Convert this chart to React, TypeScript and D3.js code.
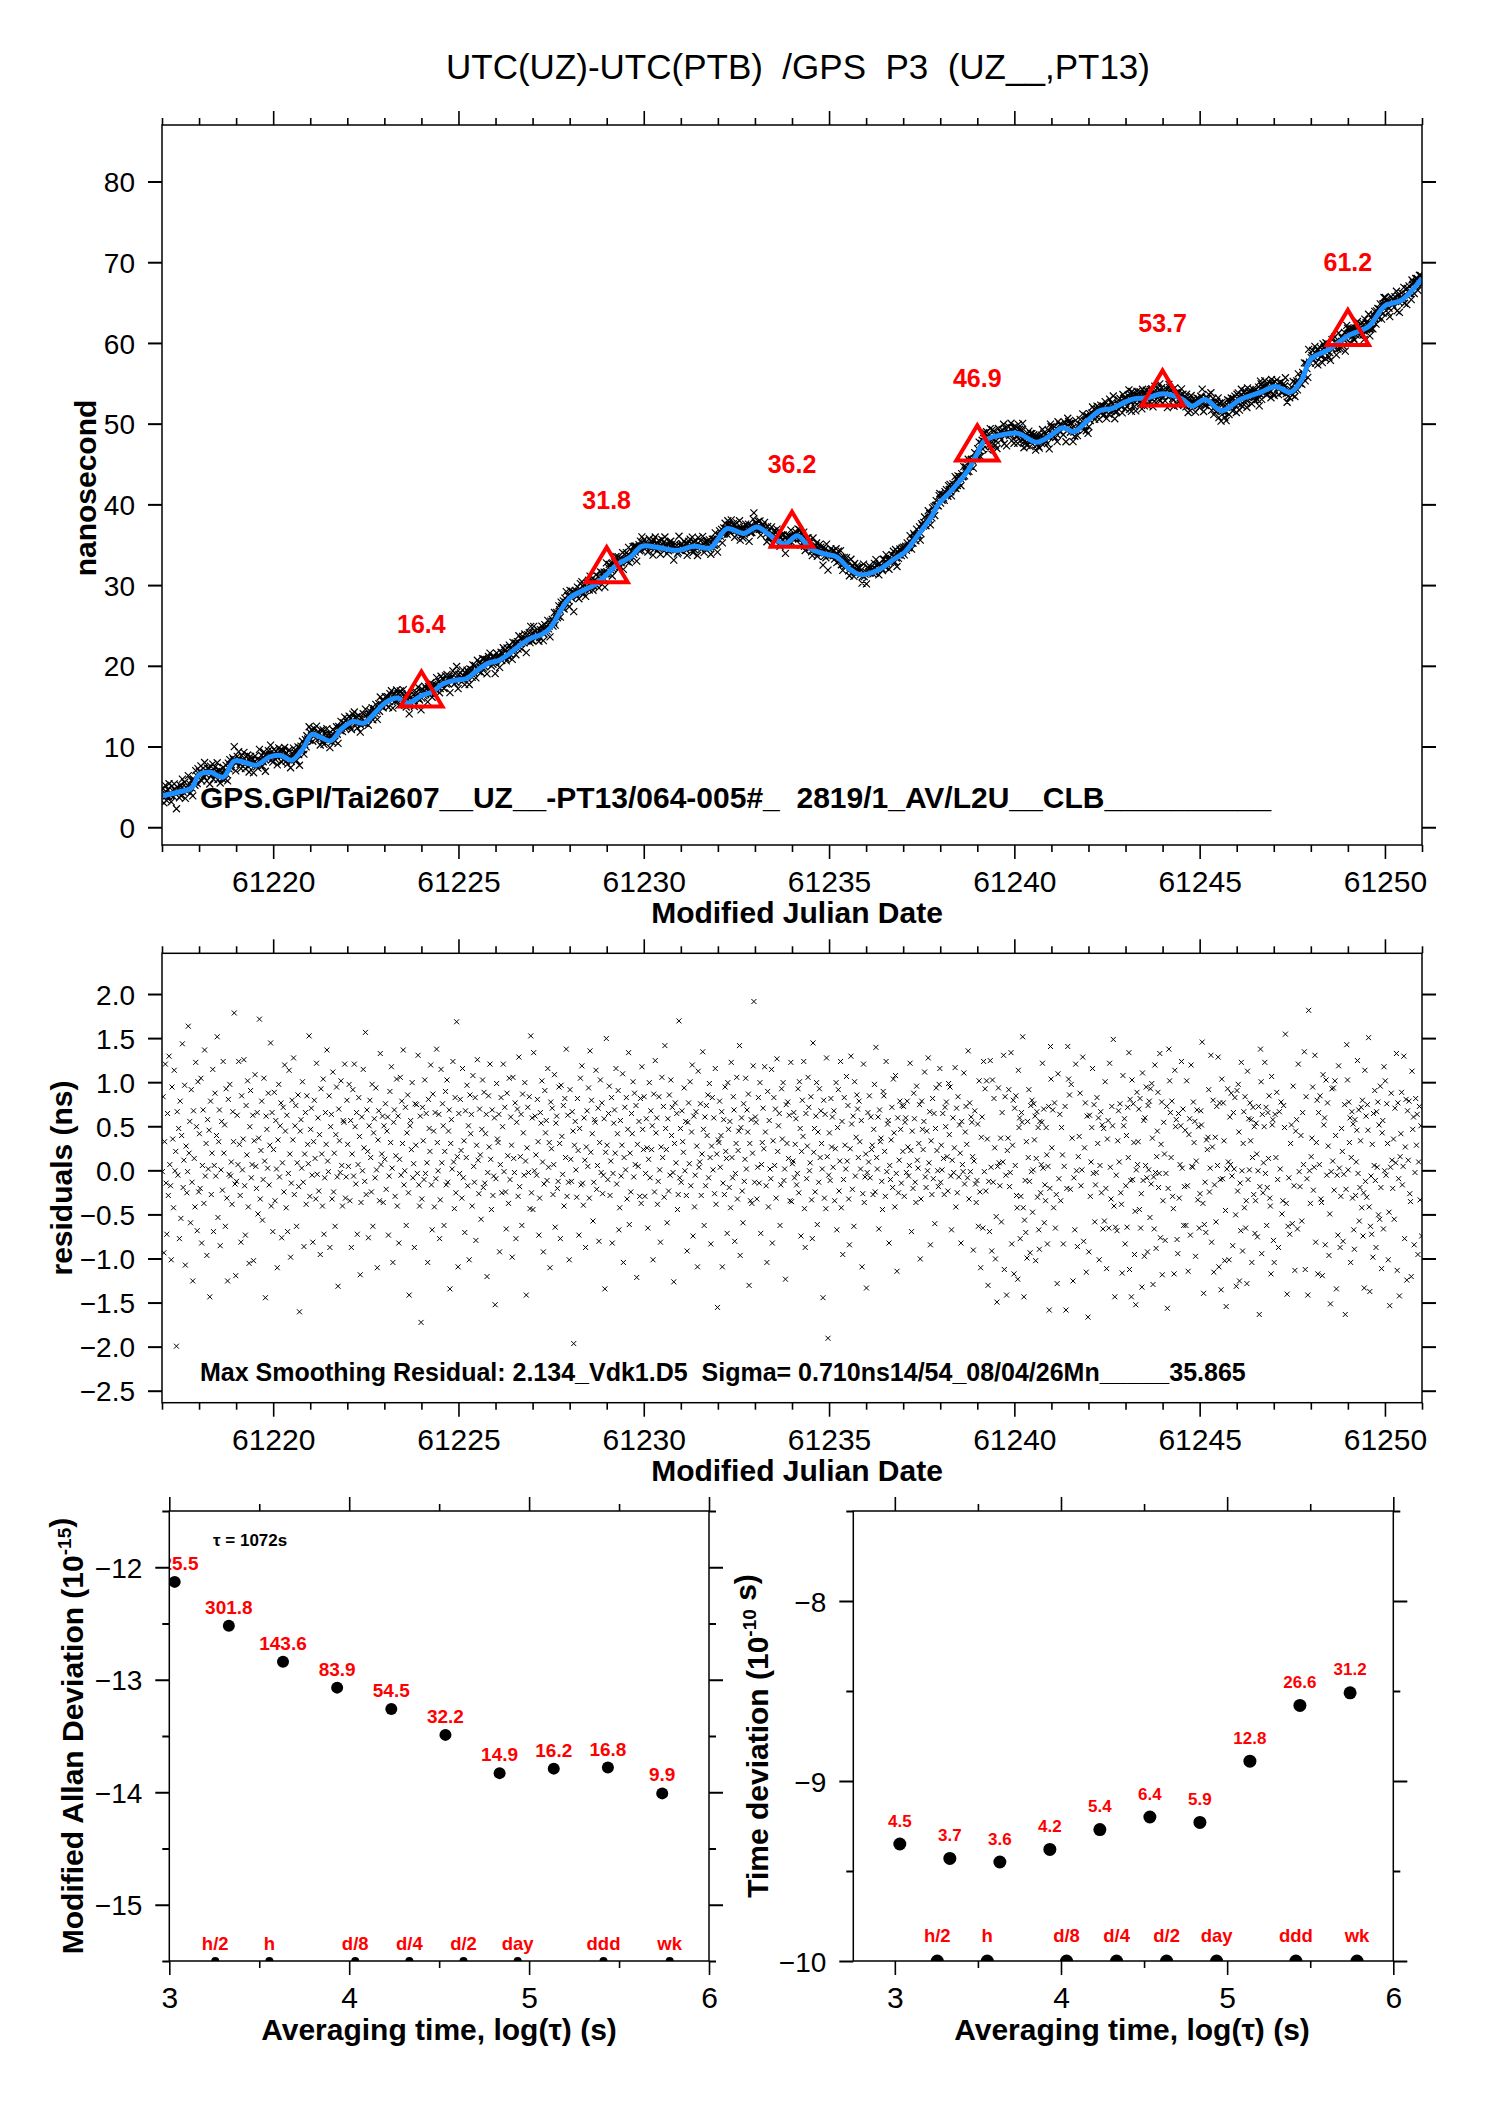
import { useRef, useEffect } from 'react';
import * as d3 from 'd3';

const W = 1488;
const H = 2105;
const FONT = '"Liberation Sans", Arial, Helvetica, sans-serif';
const RED = '#ff0000';
const BLUE = '#1e90ff';

const TITLE = 'UTC(UZ)-UTC(PTB)  /GPS  P3  (UZ__,PT13)';
const INFO_TOP = 'GPS.GPI/Tai2607__UZ__-PT13/064-005#_  2819/1_AV/L2U__CLB__________';
const INFO_RES = 'Max Smoothing Residual: 2.134_Vdk1.D5  Sigma= 0.710ns14/54_08/04/26Mn_____35.865';

const MJD0 = 61217;
const MJD_TICKS = [61220, 61225, 61230, 61235, 61240, 61245, 61250];
const NS_TICKS = [0, 10, 20, 30, 40, 50, 60, 70, 80];
const RES_TICKS = [2, 1.5, 1, 0.5, 0, -0.5, -1, -1.5, -2, -2.5];
const LOG_TICKS = [3, 4, 5, 6];
const LOG_MINOR = [3.5, 4.5, 5.5];
const ADEV_TICKS = [-12, -13, -14, -15];
const ADEV_MINOR = [-11.5, -12.5, -13.5, -14.5, -15.5];
const TDEV_TICKS = [-8, -9, -10];
const TDEV_MINOR = [-7.5, -8.5, -9.5];

// smoothed clock difference (blue curve)
const SMOOTH_MJD = [
  61217.0, 61217.4, 61217.8, 61218.0, 61218.3, 61218.65, 61218.95, 61219.25, 61219.55, 61219.9,
  61220.2, 61220.5, 61220.8, 61221.05, 61221.3, 61221.55, 61221.85, 61222.15, 61222.45, 61222.75,
  61223.05, 61223.35, 61223.65, 61224.0, 61224.3, 61224.6, 61224.9, 61225.2, 61225.5, 61225.8,
  61226.1, 61226.4, 61226.7, 61227.0, 61227.25, 61227.5, 61227.75, 61228.0, 61228.35, 61228.7,
  61229.0, 61229.3, 61229.65, 61229.95, 61230.35, 61230.9, 61231.35, 61231.8, 61232.0, 61232.25,
  61232.7, 61233.05, 61233.4, 61233.8, 61234.15, 61234.5, 61234.85, 61235.2, 61235.55, 61235.85,
  61236.3, 61236.75, 61237.05, 61237.4, 61237.75, 61237.95, 61238.3, 61238.75, 61239.0, 61239.2,
  61239.65, 61240.1, 61240.6, 61241.0, 61241.3, 61241.6, 61242.0, 61242.3, 61242.65, 61243.0,
  61243.25, 61243.6, 61244.0, 61244.5, 61244.8, 61245.15, 61245.6, 61246.1, 61246.65, 61247.05,
  61247.45, 61247.75, 61248.0, 61248.45, 61249.05, 61249.55, 61250.0, 61250.45, 61251.0,
];
const SMOOTH_NS = [
  3.9, 4.3, 4.9, 6.5, 6.8, 6.2, 8.2, 8.0, 7.7, 8.7,
  8.9, 8.3, 9.7, 11.5, 11.1, 10.7, 12.2, 13.1, 12.9, 14.2,
  15.5, 16.0, 15.4, 16.3, 16.8, 17.8, 18.2, 18.4, 19.4, 20.3,
  20.7, 21.6, 22.7, 23.5, 23.9, 24.8, 26.8, 28.4, 29.3, 30.1,
  31.3, 32.6, 33.5, 34.8, 34.7, 34.3, 34.8, 34.6, 35.7, 37.0,
  36.4, 37.2, 36.2, 35.1, 36.1, 34.5, 33.9, 33.5, 32.0, 31.3,
  31.8, 33.2, 34.1, 36.2, 38.4, 40.0, 41.7, 44.2, 46.3, 47.9,
  48.6, 48.8, 47.7, 48.6, 49.5, 49.0, 50.5, 51.6, 51.9, 52.7,
  53.1, 53.2, 53.7, 53.1, 52.2, 53.0, 51.6, 53.0, 53.9, 54.6,
  53.9, 55.4, 58.0, 59.1, 61.0, 62.0, 64.6, 65.3, 68.0,
];

// 5-day means (red triangles)
const TRI_MJD = [61224, 61229, 61234, 61239, 61244, 61249];
const TRI_NS = [16.4, 31.8, 36.2, 46.9, 53.7, 61.2];

// residuals, one row per day; each letter is a value in 0.1 ns steps, 'U' = 0
const RESID_CODE = 'ABCDEFGHIJKLMNOPQRSTUVWXYZabcdefghijklmno';
const RESID_DAYS = [
  'UcLXgTNaRhVSKdYQfUWAbTZMcPYiSVeJXRUkWaOdTHbVQgZNeS',
  'YSeMVbQiTXKaUZGcRWfNVdTYjPXbLUaSgWZOdRHcUeTVQbXmSI',
  'TaVgXRMcUYhSNbWeQJZdTVaKXfUSbPYlRWcOTeVGaZUdSXiQbN',
  'WdRaUJXeTZcMVbSgYQaNUfWKTcXhRZbOVdSEYaUeTLWbQcXVjR',
  'ZbTMXcVRgUaSYKdWQeNTbXiVUcLZaRfSWOYdTHbXUeVQaZgRTc',
  'XUeRaLWdTgZSbNVcYIQaUfXTkRbWMZcVSeOYaTdUJXbRhVWaQZ',
  'VcSYaNTdXgUKZbRWeQaMVfTcXiSUbOYdRGZaWeTVLcXbUhSQaD',
  'RbXTeUaVKcZWgSNdYQbTiXUaMRfVcZOWdSeTYbHXaUgVQcRlWJ',
  'aUcWRgTXNbVeSZKdYaQfUTcMXhVRbWOZeSdTYaIUcXgVQbRTaF',
  'TeYXaLVcRZgUbSNdWQeTaXKfVUcMZbRhSWaOdYTeVGXbUcQjRa',
  'QhUaWTcXNRbZeVLSdYaTgUXJcWbRVfOZaSTdXMeYUbQcViRaTK',
  'dVTbYAXaURcWNZeSgTQaVLXbUdRiWcYOTaZfSVbMXeUcRTaHWj',
  'XTaeRVcMUZbWgSYdNQaTXfKVbUcRZhOWSaYeTdVbIXUaRcQgZW',
  'cRUaXNVeTbWZKdSgYaQTcUMXfVbRiZWOaSdTeYbUHXcVaQRlTZ',
  'TbXWdUaRLZcVeSYgNaQTbXJfUVcRWhZOaSbYdTeVMXcUaRgQWE',
  'XXcUYbJTaRdWVNeZSaQgVTcbMUXfRWYiKZaSOcTVeUbYdHXRaQWgnT',
  'aZRUcTeNVXbWgYSKdQaUTfMXcVbRhWZaOSdYeTUIbXcVaRgQ',
  'VVbTXaSUdReZNWcYgQLaTXfbUVcRMiWZSaeOYTdVbXUGcRaQhWBT',
  'YTcXaUbRWeNZdSVgQaKTcXUfVbRMWhZSaOeTYdbVcXUaJRgQTW',
  'HUbVcTaWXRZeSiVUaNbXYTQdcWRgUZaMVTXbSeYQfUJaRVcZTbW',
  'bRZaUcXTVgWNYSdaTQeVUXbKRcZWafTSYUhVbMXRcTaOZdWUSeg',
  'TXUaVRbZcWSeYdTNVaUXgQbRcTZWMaVUfSYbXTiRcUaZWLVbSQT',
  'ZOeSJYaNgUdSeYHTNgULeTcXKPFUdVSYObVhJcTGWYdSUhMXcI',
  'bVcRQIfZaMRbZjQGOTNXKaVdTLbUcPUcXaKVbRZNLaRVZgUbOSRZWMUbESie',
  'XbQcNRHfTaRZWMUbESiedSeYHTNgULWYdSUhMXcIaD',
  'LaRVZgUbOSUcXaKVbRZNZOeSJYaNgURbZjQGOTNXbVcRQIfZaM',
  'SYObVhJcTGeTcXKPFUdVXbQcNRHfTaKaVdTLbUcPdSeYHTNgULWYdSUhMXcI',
  'RZWMUbESiebVcRQIfZaMLaRVZgUbOSZOeSJYaNgUUcXaKVbRZN',
  'RbZjQGOTNXWYdSUhMXcISYObVhJcTGeTcXKPFUdVKaVdTLbUcPH',
  'dSeYHTNgULXbQcNRHfTaUcXaKVbRZNRZWMUbESieLaRVZgUbOSbVcRQIfZaM',
  'KaVdTLbUcPRbZjQGOTNXZOeSJYaNgUSYObVhJcTGmUQ',
  'WYdSUhMXcIbVcRQIfZaMeTcXKPFUdVdSeYHTNgULRZWMUbESie',
  'UcXaKVbRZNLaRVZgUbOSXbQcNRHfTaRbZjQGOTNXKaVdTLbUcPZOeSJYaNgU',
  'eTcXKPFUdVSYObVhJcTGWYdSUhMXcIbVcRQIfZaMUcXaKVbRZN',
];
// hundredths of ns added to each residual above, in the same order
const RESID_FINE = [
  '38175029641739028465192730485617293840561928374650',
  '64920371858260137495028461739502846173950284617395',
  '27184639500718263945617283940516273849506172839405',
  '83016492751836049275183604927581306492751830694275',
  '15937482604159734826041539748260415973482604195374',
  '49201736854902173685490217368549021736854920713685',
  '70395184627093518462709351846270935184627039158462',
  '26847193052648719305264871930526487193052684179305',
  '91573068429175306842917530684291753068429157036842',
  '53068217945360821794536082179453608217945306281794',
  '08462957130864295713086429571308642957130846925713',
  '67219830546712983054671298305467129830546721893054',
  '34906572183409657218340965721834096572183490567218',
  '85130974628531097462853109746285310974628513907462',
  '12758406391257840639125784063912578406391275480639',
  '96384150279683415027968341502796834150279638145027',
  '43615928704316592870431659287043165928704361952870',
  '79250643817952064381795206438179520643817925604381',
  '20497361582094736158209473615820947361582049376158',
  '58731204965837120496583712049658371204965873210496',
  '31086759423180675942318067594231806759423108765942',
  '87462013598764201359876420135987642013598746021359',
  '04529837160425983716042598371604259837160452893716',
  '62813475096218347509621834750962183475096281437509',
  '19674580321976458032197645803219764580321967548032',
  '75340196827543019682754301968275430196827534109682',
  '40968253174069825317406982531740698253174096285317',
  '93157842609351784260935178426093517842609315874260',
  '26705314982607531498260753149826075314982670351498',
  '51829067435128906743512890674351289067435182096743',
  '08394716250893471625089347162508934716250839741625',
  '64071928536470192853647019285364701928536407912853',
  '37582640913775264091377526409137752640913758624091',
  '82649053718246905371824690537182469053718264095371',
  '15206389471502638947150263894715026389471520368947',
];

// stability: log10(tau) of the points, tau = 1072 s * 2^k
const STAB_LOGTAU = [3.030, 3.331, 3.632, 3.933, 4.234, 4.535, 4.836, 5.137, 5.438, 5.740];
const ADEV_VAL = [-12.13, -12.52, -12.84, -13.07, -13.26, -13.49, -13.83, -13.79, -13.78, -14.01];
const ADEV_LABELS = ['625.5', '301.8', '143.6', '83.9', '54.5', '32.2', '14.9', '16.2', '16.8', '9.9'];
const TDEV_VAL = [-9.35, -9.43, -9.45, -9.38, -9.27, -9.2, -9.23, -8.89, -8.58, -8.51];
const TDEV_LABELS = ['4.5', '3.7', '3.6', '4.2', '5.4', '6.4', '5.9', '12.8', '26.6', '31.2'];
const NOISE_TAU = [1800, 3600, 10800, 21600, 43200, 86400, 259200, 604800];
const NOISE_LABELS = ['h/2', 'h', 'd/8', 'd/4', 'd/2', 'day', 'ddd', 'wk'];

function addAxis(g: any, axis: any, tx: number, ty: number, sw: number) {
  const a = g.append('g').attr('transform', `translate(${tx},${ty})`).call(axis);
  a.select('.domain').remove();
  a.attr('font-family', FONT).attr('font-size', null);
  a.selectAll('.tick line').attr('stroke', '#000').attr('stroke-width', sw);
  a.selectAll('.tick text').attr('fill', '#000');
  return a;
}

function panelAxes(g: any, x: any, y: any, o: any) {
  const [xl, xr] = x.range();
  const [yb, yt] = y.range();
  const blank = () => '';
  const bx = addAxis(g, d3.axisBottom(x).tickValues(o.xMajor).tickSize(14).tickFormat(o.xFmt), 0, yb, 1.6);
  bx.selectAll('.tick text').attr('y', 47).attr('dy', null).attr('font-size', 30);
  addAxis(g, d3.axisBottom(x).tickValues(o.xMinor).tickSize(7).tickFormat(blank), 0, yb, 1.6);
  addAxis(g, d3.axisTop(x).tickValues(o.xMajor).tickSize(14).tickFormat(blank), 0, yt, 1.6);
  addAxis(g, d3.axisTop(x).tickValues(o.xMinor).tickSize(7).tickFormat(blank), 0, yt, 1.6);
  const ly = addAxis(g, d3.axisLeft(y).tickValues(o.yMajor).tickSize(14).tickFormat(o.yFmt), xl, 0, 2);
  ly.selectAll('.tick text').attr('x', -27).attr('dy', '0.36em').attr('font-size', 28);
  addAxis(g, d3.axisLeft(y).tickValues(o.yMinor).tickSize(7).tickFormat(blank), xl, 0, 2);
  addAxis(g, d3.axisRight(y).tickValues(o.yMajor).tickSize(14).tickFormat(blank), xr, 0, 2);
  addAxis(g, d3.axisRight(y).tickValues(o.yMinor).tickSize(7).tickFormat(blank), xr, 0, 2);
  g.append('rect')
    .attr('x', xl).attr('y', yt).attr('width', xr - xl).attr('height', yb - yt)
    .attr('fill', 'none').attr('stroke', '#000').attr('stroke-width', 1.5);
}

function crossPath(pts: [number, number][], s: number) {
  const p = d3.path();
  pts.forEach(([px, py]) => {
    p.moveTo(px - s, py - s); p.lineTo(px + s, py + s);
    p.moveTo(px - s, py + s); p.lineTo(px + s, py - s);
  });
  return p.toString();
}

function rotLabel(svg: any, x: number, y: number, parts: [string, boolean][]) {
  const t = svg.append('text')
    .attr('transform', `translate(${x},${y}) rotate(-90)`)
    .attr('text-anchor', 'middle').attr('font-family', FONT)
    .attr('font-weight', 'bold').attr('font-size', 30).style('white-space', 'pre');
  parts.forEach(([s, sup]) => {
    t.append('tspan').attr('font-size', sup ? 19 : null).attr('dy', sup ? -12 : 0).text(s);
    if (sup) t.append('tspan').attr('dy', 12).text('');
  });
}

export default function App() {
  const ref = useRef<SVGSVGElement>(null);

  useEffect(() => {
    if (!ref.current) return;
    const svg = d3.select(ref.current);
    svg.selectAll('*').remove();
    const defs = svg.append('defs');
    const clip = (id: string, x: number, y: number, w: number, h: number) => {
      defs.append('clipPath').attr('id', id).append('rect')
        .attr('x', x).attr('y', y).attr('width', w).attr('height', h);
      return `url(#${id})`;
    };

    const minorMjd = d3.range(MJD0, 61252).filter(d => d % 5 !== 0);

    // residual points
    const fine = RESID_FINE.join('');
    const resid: { t: number; r: number }[] = [];
    RESID_DAYS.forEach((row, d) => {
      const n = row.length;
      row.split('').forEach((c, j) => {
        const k = RESID_CODE.indexOf(c);
        if (k < 0) return;
        const f = fine.length > resid.length ? +fine[resid.length] : 4.5;
        resid.push({ t: MJD0 + d + (j + 0.5) / n, r: (k - 20) / 10 + (f - 4.5) / 100 });
      });
    });

    svg.append('text')
      .attr('x', 798).attr('y', 79).attr('text-anchor', 'middle')
      .attr('font-family', FONT).attr('font-size', 35).style('white-space', 'pre')
      .text(TITLE);

    // ---- top panel: time difference
    const x1 = d3.scaleLinear().domain([MJD0, 61251]).range([162, 1422]);
    const y1 = d3.scaleLinear().domain([-2.2, 87]).range([845, 125]);
    const smooth = d3.scaleLinear().domain(SMOOTH_MJD).range(SMOOTH_NS);
    const g1 = svg.append('g');
    const d1 = g1.append('g').attr('clip-path', clip('c1', 162, 125, 1260, 720));
    d1.append('path')
      .attr('d', crossPath(resid.map(p => [x1(p.t), y1(smooth(p.t) + p.r)]), 3.5))
      .attr('stroke', '#000').attr('stroke-width', 1.2).attr('fill', 'none');
    const line = d3.line<number>()
      .x((_, i) => x1(SMOOTH_MJD[i]))
      .y(d => y1(d))
      .curve(d3.curveCatmullRom.alpha(0.5));
    d1.append('path').attr('d', line(SMOOTH_NS) as string)
      .attr('fill', 'none').attr('stroke', BLUE).attr('stroke-width', 5);
    const tri = d3.path();
    TRI_MJD.forEach((m, i) => {
      const cx = x1(m);
      const cy = y1(TRI_NS[i]);
      tri.moveTo(cx, cy - 23.3);
      tri.lineTo(cx + 21, cy + 11.7);
      tri.lineTo(cx - 21, cy + 11.7);
      tri.closePath();
    });
    g1.append('path').attr('d', tri.toString())
      .attr('fill', 'none').attr('stroke', RED).attr('stroke-width', 4);
    g1.selectAll(null).data(TRI_NS).join('text')
      .attr('x', (_, i) => x1(TRI_MJD[i])).attr('y', d => y1(d) - 62)
      .attr('text-anchor', 'middle').attr('font-family', FONT).attr('font-weight', 'bold')
      .attr('font-size', 25).attr('fill', RED).text(d => d.toFixed(1));
    g1.append('text')
      .attr('x', 200).attr('y', 808).attr('font-family', FONT).attr('font-weight', 'bold')
      .attr('font-size', 30).style('white-space', 'pre').text(INFO_TOP);
    panelAxes(g1, x1, y1, {
      xMajor: MJD_TICKS, xMinor: minorMjd, yMajor: NS_TICKS, yMinor: [],
      xFmt: d3.format('d'), yFmt: d3.format('d'),
    });
    svg.append('text').attr('x', 797).attr('y', 923).attr('text-anchor', 'middle')
      .attr('font-family', FONT).attr('font-weight', 'bold').attr('font-size', 30)
      .text('Modified Julian Date');
    rotLabel(svg, 96, 488, [['nanosecond', false]]);

    // ---- residual panel
    const y2 = d3.scaleLinear().domain([-2.636, 2.462]).range([1402.7, 953.3]);
    const g2 = svg.append('g');
    const d2 = g2.append('g').attr('clip-path', clip('c2', 162, 953.3, 1260, 449.4));
    d2.append('path')
      .attr('d', crossPath(resid.map(p => [x1(p.t), y2(p.r)]), 2.5))
      .attr('stroke', '#000').attr('stroke-width', 1).attr('fill', 'none');
    g2.append('text')
      .attr('x', 200).attr('y', 1381).attr('font-family', FONT).attr('font-weight', 'bold')
      .attr('font-size', 25).style('white-space', 'pre').text(INFO_RES);
    panelAxes(g2, x1, y2, {
      xMajor: MJD_TICKS, xMinor: minorMjd, yMajor: RES_TICKS, yMinor: [],
      xFmt: d3.format('d'), yFmt: d3.format('.1f'),
    });
    svg.append('text').attr('x', 797).attr('y', 1481).attr('text-anchor', 'middle')
      .attr('font-family', FONT).attr('font-weight', 'bold').attr('font-size', 30)
      .text('Modified Julian Date');
    rotLabel(svg, 72, 1178, [['residuals (ns)', false]]);

    // ---- modified Allan deviation
    const x3 = d3.scaleLinear().domain([3, 6]).range([169.3, 709]);
    const y3 = d3.scaleLinear().domain([-15.5, -11.5]).range([1961, 1511]);
    const g3 = svg.append('g');
    const d3g = g3.append('g').attr('clip-path', clip('c3', 169.3, 1511, 539.7, 450));
    d3g.selectAll(null).data(NOISE_TAU).join('circle')
      .attr('cx', d => x3(Math.log10(d))).attr('cy', y3(-15.5)).attr('r', 4).attr('fill', '#000');
    d3g.selectAll(null).data(ADEV_VAL).join('circle')
      .attr('cx', (_, i) => x3(STAB_LOGTAU[i])).attr('cy', d => y3(d)).attr('r', 6).attr('fill', '#000');
    d3g.selectAll(null).data(ADEV_LABELS).join('text')
      .attr('x', (_, i) => x3(STAB_LOGTAU[i])).attr('y', (_, i) => y3(ADEV_VAL[i]) - 12)
      .attr('text-anchor', 'middle').attr('font-family', FONT).attr('font-weight', 'bold')
      .attr('font-size', 19).attr('fill', RED).text(d => d);
    g3.selectAll(null).data(NOISE_LABELS).join('text')
      .attr('x', (_, i) => x3(Math.log10(NOISE_TAU[i]))).attr('y', 1950)
      .attr('text-anchor', 'middle').attr('font-family', FONT).attr('font-weight', 'bold')
      .attr('font-size', 18.5).attr('fill', RED).text(d => d);
    g3.append('text').attr('x', 213).attr('y', 1546).attr('font-family', FONT)
      .attr('font-weight', 'bold').attr('font-size', 17).text('τ = 1072s');
    panelAxes(g3, x3, y3, {
      xMajor: LOG_TICKS, xMinor: LOG_MINOR, yMajor: ADEV_TICKS, yMinor: ADEV_MINOR,
      xFmt: d3.format('d'), yFmt: d3.format('d'),
    });
    svg.append('text').attr('x', 439).attr('y', 2040).attr('text-anchor', 'middle')
      .attr('font-family', FONT).attr('font-weight', 'bold').attr('font-size', 30)
      .text('Averaging time, log(τ) (s)');
    rotLabel(svg, 83, 1736, [['Modified Allan Deviation (10', false], ['-15', true], [')', false]]);

    // ---- time deviation
    const x4 = d3.scaleLinear().domain([2.75, 6]).range([853.3, 1393.3]);
    const y4 = d3.scaleLinear().domain([-10, -7.5]).range([1961, 1511]);
    const g4 = svg.append('g');
    const d4 = g4.append('g').attr('clip-path', clip('c4', 853.3, 1511, 540, 450));
    d4.selectAll(null).data(NOISE_TAU).join('circle')
      .attr('cx', d => x4(Math.log10(d))).attr('cy', y4(-10)).attr('r', 6.5).attr('fill', '#000');
    d4.selectAll(null).data(TDEV_VAL).join('circle')
      .attr('cx', (_, i) => x4(STAB_LOGTAU[i])).attr('cy', d => y4(d)).attr('r', 6.5).attr('fill', '#000');
    d4.selectAll(null).data(TDEV_LABELS).join('text')
      .attr('x', (_, i) => x4(STAB_LOGTAU[i])).attr('y', (_, i) => y4(TDEV_VAL[i]) - 17.5)
      .attr('text-anchor', 'middle').attr('font-family', FONT).attr('font-weight', 'bold')
      .attr('font-size', 17).attr('fill', RED).text(d => d);
    g4.selectAll(null).data(NOISE_LABELS).join('text')
      .attr('x', (_, i) => x4(Math.log10(NOISE_TAU[i]))).attr('y', 1942)
      .attr('text-anchor', 'middle').attr('font-family', FONT).attr('font-weight', 'bold')
      .attr('font-size', 18.5).attr('fill', RED).text(d => d);
    panelAxes(g4, x4, y4, {
      xMajor: LOG_TICKS, xMinor: LOG_MINOR, yMajor: TDEV_TICKS, yMinor: TDEV_MINOR,
      xFmt: d3.format('d'), yFmt: d3.format('d'),
    });
    svg.append('text').attr('x', 1132).attr('y', 2040).attr('text-anchor', 'middle')
      .attr('font-family', FONT).attr('font-weight', 'bold').attr('font-size', 30)
      .text('Averaging time, log(τ) (s)');
    rotLabel(svg, 768, 1736, [['Time deviation (10', false], ['-10', true], [' s)', false]]);
  }, []);

  return (
    <svg
      ref={ref}
      width={W}
      height={H}
      style={{ position: 'absolute', left: 0, top: 0, background: '#fff' }}
    />
  );
}
